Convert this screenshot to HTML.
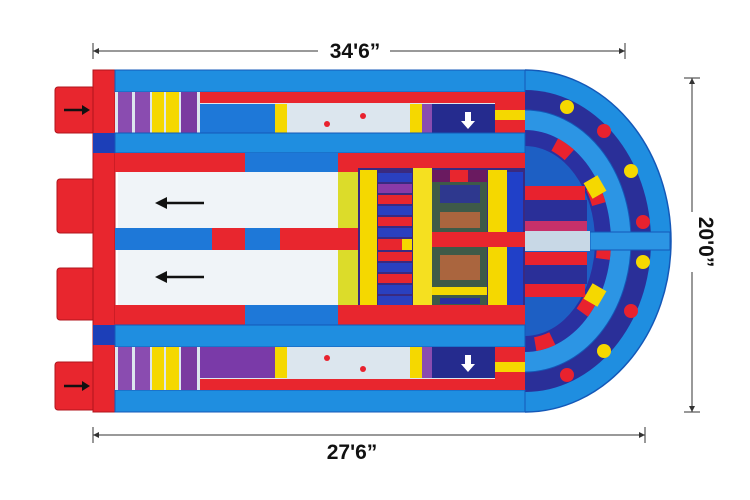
<!DOCTYPE html>
<html><head><meta charset="utf-8"><style>
html,body{margin:0;padding:0;background:#fff;width:750px;height:500px;overflow:hidden}
svg{display:block}
text{font-family:"Liberation Sans",sans-serif;font-weight:bold;fill:#111}
</style></head><body>
<svg width="750" height="500" viewBox="0 0 750 500" xmlns="http://www.w3.org/2000/svg">
<defs>
<clipPath id="rc"><rect x="525" y="60" width="200" height="370"/></clipPath>
</defs>
<!-- dimension lines -->
<g stroke="#333" stroke-width="1" fill="none">
<line x1="93" y1="51" x2="318" y2="51"/><line x1="390" y1="51" x2="625" y2="51"/>
<line x1="93" y1="43" x2="93" y2="59"/><line x1="625" y1="43" x2="625" y2="59"/>
<line x1="93" y1="435" x2="645" y2="435"/>
<line x1="93" y1="427" x2="93" y2="443"/><line x1="645" y1="427" x2="645" y2="443"/>
<line x1="692" y1="78" x2="692" y2="212"/><line x1="692" y1="272" x2="692" y2="412"/>
<line x1="684" y1="78" x2="700" y2="78"/><line x1="684" y1="412" x2="700" y2="412"/>
</g>
<g fill="#333">
<polygon points="93,51 99,48 99,54"/><polygon points="625,51 619,48 619,54"/>
<polygon points="93,435 99,432 99,438"/><polygon points="645,435 639,432 639,438"/>
<polygon points="692,78 689,84 695,84"/><polygon points="692,412 689,406 695,406"/>
</g>
<text x="355" y="58" font-size="21" text-anchor="middle">34'6”</text>
<text x="352" y="459" font-size="21" text-anchor="middle">27'6”</text>
<text x="0" y="0" font-size="21" text-anchor="middle" transform="translate(699,242) rotate(90)">20'0”</text>

<!-- right semicircle -->
<g clip-path="url(#rc)">
<ellipse cx="525" cy="241" rx="146" ry="171" fill="#1f8ee0" stroke="#1458b8" stroke-width="1.5"/>
<ellipse cx="525" cy="241" rx="126" ry="151" fill="#2a2f98"/>
<ellipse cx="525" cy="241" rx="106" ry="131" fill="#2c95e4" stroke="#1458b8"/>
<ellipse cx="525" cy="241" rx="86" ry="111" fill="#2a30a0"/>
<ellipse cx="525" cy="241" rx="79" ry="104" fill="none" stroke="#e8222e" stroke-width="14" stroke-dasharray="18 40"/>
<ellipse cx="525" cy="241" rx="70" ry="95" fill="#1d5fc4"/>
</g>
<rect x="590" y="232" width="80" height="18" fill="#2c95e4" stroke="#1458b8"/>
<!-- dots -->
<g>
<circle cx="567" cy="107" r="7" fill="#f5d800"/><circle cx="604" cy="131" r="7" fill="#e8222e"/>
<circle cx="631" cy="171" r="7" fill="#f5d800"/><circle cx="643" cy="222" r="7" fill="#e8222e"/>
<circle cx="643" cy="262" r="7" fill="#f5d800"/><circle cx="631" cy="311" r="7" fill="#e8222e"/>
<circle cx="604" cy="351" r="7" fill="#f5d800"/><circle cx="567" cy="375" r="7" fill="#e8222e"/>
</g>
<rect x="587" y="178" width="16" height="18" fill="#f5d800" transform="rotate(-30 595 187)"/>
<rect x="587" y="286" width="16" height="18" fill="#f5d800" transform="rotate(30 595 295)"/>
<!-- inner stripes -->
<rect x="525" y="186" width="60" height="14" fill="#e8222e"/>
<rect x="525" y="200" width="62" height="21" fill="#2a2f98"/>
<rect x="525" y="221" width="62" height="10" fill="#c8306a"/>
<rect x="525" y="231" width="65" height="20" fill="#c8d8e6"/>
<rect x="525" y="252" width="62" height="13" fill="#e8222e"/>
<rect x="525" y="265" width="62" height="19" fill="#2a2f98"/>
<rect x="525" y="284" width="60" height="13" fill="#e8222e"/>

<!-- left bumps -->
<g fill="#e8262e" stroke="#b0141c">
<rect x="55" y="87" width="40" height="46" rx="3"/>
<rect x="57" y="179" width="38" height="54" rx="3"/>
<rect x="57" y="268" width="38" height="52" rx="3"/>
<rect x="55" y="362" width="40" height="48" rx="3"/>
</g>
<g stroke="#111" stroke-width="2.5"><line x1="64" y1="110" x2="84" y2="110"/><line x1="64" y1="386" x2="84" y2="386"/></g>
<polygon points="90,110 82,105 82,115" fill="#111"/><polygon points="90,386 82,381 82,391" fill="#111"/>

<!-- main body -->
<rect x="93" y="70" width="22" height="342" fill="#e8262e" stroke="#b0141c"/>
<rect x="93" y="133" width="22" height="20" fill="#1c3fb8"/>
<rect x="93" y="325" width="22" height="20" fill="#1c3fb8"/>
<rect x="115" y="70" width="410" height="22" fill="#1f8ee0" stroke="#1458b8"/>
<rect x="115" y="390" width="410" height="22" fill="#1f8ee0" stroke="#1458b8"/>

<!-- top lane -->
<rect x="115" y="92" width="410" height="41" fill="#dce6ee"/>
<rect x="118" y="92" width="14" height="41" fill="#8a4cb0"/><rect x="135" y="92" width="15" height="41" fill="#8a4cb0"/>
<rect x="152" y="92" width="12" height="41" fill="#f5d800"/><rect x="166" y="92" width="13" height="41" fill="#f5d800"/>
<rect x="181" y="92" width="16" height="41" fill="#7a3aa0"/>
<rect x="200" y="104" width="75" height="29" fill="#1e78d8"/>
<rect x="200" y="92" width="295" height="11" fill="#e8262e"/>
<rect x="275" y="104" width="12" height="29" fill="#f5d800"/>
<rect x="410" y="104" width="12" height="29" fill="#f5d800"/>
<rect x="422" y="104" width="10" height="29" fill="#8a4cb0"/>
<rect x="432" y="104" width="63" height="29" fill="#252b8e"/>
<rect x="495" y="92" width="30" height="41" fill="#e8262e"/><rect x="495" y="110" width="30" height="10" fill="#f5d800"/>
<polygon points="465,112 471,112 471,121 475,121 468,129 461,121 465,121" fill="#fff"/>
<circle cx="327" cy="124" r="3" fill="#e8222e"/><circle cx="363" cy="116" r="3" fill="#e8222e"/>

<rect x="115" y="133" width="410" height="20" fill="#1f8ee0" stroke="#1458b8"/>
<rect x="115" y="153" width="410" height="19" fill="#e8262e"/>
<rect x="245" y="153" width="93" height="19" fill="#1e78d8"/>

<!-- slides -->
<rect x="118" y="172" width="220" height="56" fill="#f0f4f8"/>
<rect x="338" y="172" width="20" height="56" fill="#dcdc2a"/>
<rect x="115" y="228" width="245" height="22" fill="#1e78d8"/>
<rect x="212" y="228" width="33" height="22" fill="#e8262e"/><rect x="280" y="228" width="58" height="22" fill="#e8262e"/><rect x="338" y="228" width="20" height="22" fill="#e8262e"/>
<rect x="118" y="250" width="220" height="55" fill="#f0f4f8"/>
<rect x="338" y="250" width="20" height="55" fill="#dcdc2a"/>
<g stroke="#111" stroke-width="2.5"><line x1="165" y1="203" x2="204" y2="203"/><line x1="165" y1="277" x2="204" y2="277"/></g>
<polygon points="155,203 167,197 167,209" fill="#111"/><polygon points="155,277 167,271 167,283" fill="#111"/>

<!-- obstacles -->
<rect x="358" y="168" width="167" height="140" fill="#3a2a80"/>
<rect x="360" y="170" width="17" height="138" fill="#f5d800"/>
<g>
<rect x="378" y="173" width="34" height="9" fill="#2a40c0"/><rect x="378" y="184" width="34" height="9" fill="#8a3aa8"/>
<rect x="378" y="195" width="34" height="9" fill="#e8262e"/><rect x="378" y="206" width="34" height="9" fill="#2a40c0"/>
<rect x="378" y="217" width="34" height="9" fill="#e8262e"/><rect x="378" y="228" width="34" height="9" fill="#2a40c0"/>
<rect x="378" y="239" width="24" height="11" fill="#e8262e"/><rect x="402" y="239" width="10" height="11" fill="#f5d800"/>
<rect x="378" y="252" width="34" height="9" fill="#e8262e"/><rect x="378" y="263" width="34" height="9" fill="#2a40c0"/>
<rect x="378" y="274" width="34" height="9" fill="#e8262e"/><rect x="378" y="285" width="34" height="9" fill="#2a40c0"/>
<rect x="378" y="296" width="34" height="9" fill="#2a40c0"/>
</g>
<rect x="413" y="168" width="19" height="142" fill="#f5e020"/>
<rect x="432" y="170" width="55" height="135" fill="#3e5a48"/>
<rect x="432" y="170" width="55" height="12" fill="#6a1a60"/><rect x="450" y="170" width="18" height="12" fill="#e8262e"/>
<rect x="432" y="232" width="93" height="15" fill="#e8262e"/>
<rect x="432" y="287" width="55" height="8" fill="#f5d800"/>
<g fill="#d86a3a">
<rect x="440" y="212" width="40" height="16" opacity=".7"/><rect x="440" y="255" width="40" height="25" opacity=".7"/>
<rect x="440" y="185" width="40" height="18" fill="#2a30a0" opacity=".8"/><rect x="440" y="298" width="40" height="6" fill="#2a30a0"/>
</g>
<rect x="488" y="170" width="19" height="62" fill="#f5d800"/><rect x="488" y="247" width="19" height="61" fill="#f5d800"/>
<rect x="507" y="172" width="16" height="60" fill="#2040c8"/><rect x="507" y="247" width="16" height="58" fill="#2040c8"/>

<rect x="115" y="305" width="410" height="20" fill="#e8262e"/>
<rect x="245" y="305" width="93" height="20" fill="#1e78d8"/>
<rect x="115" y="325" width="410" height="22" fill="#1f8ee0" stroke="#1458b8"/>

<!-- bottom lane -->
<rect x="115" y="347" width="410" height="43" fill="#dce6ee"/>
<rect x="118" y="347" width="14" height="43" fill="#8a4cb0"/><rect x="135" y="347" width="15" height="43" fill="#8a4cb0"/>
<rect x="152" y="347" width="12" height="43" fill="#f5d800"/><rect x="166" y="347" width="13" height="43" fill="#f5d800"/>
<rect x="181" y="347" width="16" height="43" fill="#7a3aa0"/>
<rect x="200" y="347" width="75" height="31" fill="#7a3aa8"/>
<rect x="275" y="347" width="12" height="31" fill="#f5d800"/>
<rect x="410" y="347" width="12" height="31" fill="#f5d800"/>
<rect x="422" y="347" width="10" height="31" fill="#8a4cb0"/>
<rect x="432" y="347" width="63" height="31" fill="#252b8e"/>
<rect x="200" y="379" width="295" height="11" fill="#e8262e"/>
<rect x="495" y="347" width="30" height="43" fill="#e8262e"/><rect x="495" y="362" width="30" height="10" fill="#f5d800"/>
<polygon points="465,355 471,355 471,364 475,364 468,372 461,364 465,364" fill="#fff"/>
<circle cx="327" cy="358" r="3" fill="#e8222e"/><circle cx="363" cy="369" r="3" fill="#e8222e"/>
</svg>
</body></html>
